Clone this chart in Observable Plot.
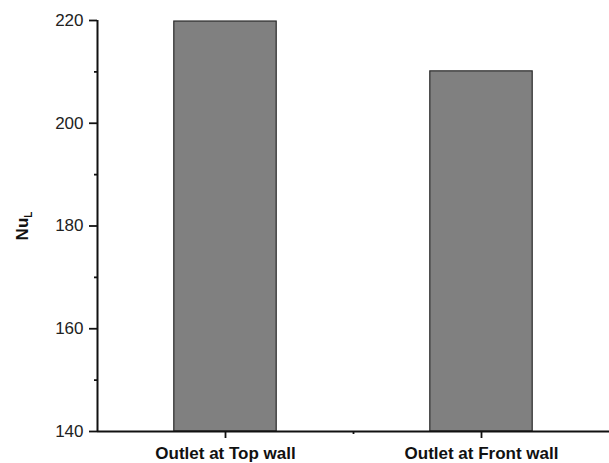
<!DOCTYPE html>
<html>
<head>
<meta charset="utf-8">
<script src="https://cdn.jsdelivr.net/npm/d3@7"></script>
<script src="https://cdn.jsdelivr.net/npm/@observablehq/plot@0.6"></script>
<style>
  html, body { margin: 0; padding: 0; background: #fff; }
  #chart { width: 609px; height: 463px; }
</style>
</head>
<body>
<div id="chart"></div>
<script>
// Data
const categories = ["Outlet at Top wall", "Outlet at Front wall"];
const nuValues = [219.8, 210.1];
const categoryPositions = [1, 2];
const xDomain = [0.5, 2.5];
const xMinorTicks = [1.5];
const barHalfWidth = 0.2;
const yDomain = [140, 220];
const yMajorTicks = [140, 160, 180, 200, 220];
const yMinorTicks = [150, 170, 190, 210];

const data = categories.map((c, i) => ({
  category: c,
  pos: categoryPositions[i],
  value: nuValues[i]
}));

const font = "'Liberation Sans', Arial, Helvetica, sans-serif";
const ink = "#111";

const chart = Plot.plot({
  width: 609,
  height: 463,
  marginLeft: 97,
  marginRight: 0,
  marginTop: 20,
  marginBottom: 32,
  style: { fontFamily: font, fontSize: "17px", color: ink, background: "#fff" },
  x: { domain: xDomain, axis: null },
  y: { domain: yDomain, axis: null },
  marks: [
    Plot.rectY(data, {
      x1: d => d.pos - barHalfWidth,
      x2: d => d.pos + barHalfWidth,
      y1: yDomain[0],
      y2: "value",
      fill: "#808080",
      stroke: "#2a2a2a",
      strokeWidth: 1.2
    }),
    Plot.ruleX([xDomain[0]], { y1: yDomain[0], y2: yDomain[1], stroke: ink, strokeWidth: 2 }),
    Plot.ruleY([yDomain[0]], { x1: xDomain[0], x2: xDomain[1], stroke: ink, strokeWidth: 2 }),
    Plot.axisY({
      ticks: yMajorTicks,
      tickSize: 8,
      tickPadding: 6,
      stroke: ink,
      strokeWidth: 1.8,
      fill: "#222",
      fontSize: 17,
      label: "NuL",
      labelAnchor: "center",
      labelArrow: "none",
      labelOffset: 82
    }),
    Plot.axisY({
      ticks: yMinorTicks,
      tickSize: 3,
      stroke: ink,
      strokeWidth: 1.8,
      tickFormat: () => "",
      label: null
    }),
    Plot.axisX({
      ticks: categoryPositions,
      tickSize: 7,
      tickPadding: 8,
      stroke: ink,
      strokeWidth: 1.8,
      fill: "#111",
      tickFormat: p => categories[categoryPositions.indexOf(p)],
      fontSize: 17,
      fontWeight: "bold",
      label: null
    }),
    Plot.axisX({
      ticks: xMinorTicks,
      tickSize: 3,
      stroke: ink,
      strokeWidth: 1.8,
      tickFormat: () => "",
      label: null
    })
  ]
});

document.getElementById("chart").appendChild(chart);

// Y-axis title: bold "Nu" with subscript "L"
const yLabel = chart.querySelector('[aria-label="y-axis label"] text');
if (yLabel) {
  yLabel.textContent = "";
  yLabel.setAttribute("font-weight", "bold");
  yLabel.setAttribute("font-size", "17");
  yLabel.setAttribute("fill", "#111");
  const t1 = document.createElementNS("http://www.w3.org/2000/svg", "tspan");
  t1.textContent = "Nu";
  const t2 = document.createElementNS("http://www.w3.org/2000/svg", "tspan");
  t2.textContent = "L";
  t2.setAttribute("font-size", "10");
  t2.setAttribute("dy", "4");
  yLabel.appendChild(t1);
  yLabel.appendChild(t2);
}
</script>
</body>
</html>
